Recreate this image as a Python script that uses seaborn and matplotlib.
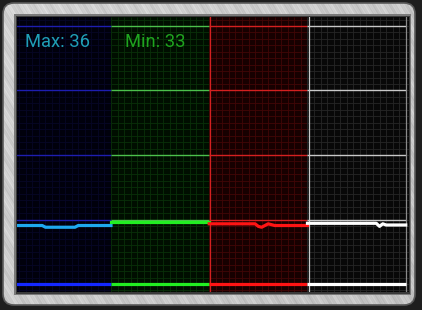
import numpy as np
import pandas as pd
import matplotlib
matplotlib.use("Agg")
import matplotlib.pyplot as plt
from matplotlib.patches import FancyBboxPatch, Rectangle
import seaborn as sns

# ---------------- data ----------------
sections = ["blue", "green", "red", "white"]
samples_per_section = 30
blue_temps = [34, 34, 34, 34, 34, 34, 34, 34, 34, 34, 33, 33, 33, 33, 33, 33,
              33, 33, 33, 33, 34, 34, 34, 34, 34, 34, 34, 34, 34, 34, 34]
green_temps = [36] * 31
red_temps = [35, 35, 35, 35, 35, 35, 35, 35, 35, 35, 35, 35, 35, 35, 35, 33.5,
             33, 34, 35, 34.5, 34, 34, 34, 34, 34, 34, 34, 34, 34, 34, 34]
white_temps = [35.3, 35.3, 35.3, 35.3, 35.3, 35.3, 35.3, 35.3, 35.3, 35.3, 35.3,
               35.3, 35.3, 35.3, 35.3, 35.3, 35.3, 35.3, 35.3, 35.3, 35.3, 35.3,
               33.5, 35, 34.3, 34.3, 34.3, 34.3, 34.3, 34.3, 34.3]
max_label = "Max: 36"
min_label = "Min: 33"
y_major = [37.5, 75, 112.5, 150]

bg_colors = {"blue": "#00000c", "green": "#000e00", "red": "#170000", "white": "#080808"}
minor_colors = {"blue": "#060626", "green": "#093009", "red": "#420606", "white": "#262626"}
major_colors = {"blue": "#1e1eb0", "green": "#4cc04c", "red": "#d42020", "white": "#c8c8c8"}
line_colors = {"blue": "#1ea8f0", "green": "#22ee22", "red": "#ff1414", "white": "#ffffff"}
base_colors = {"blue": "#1428ff", "green": "#22ee22", "red": "#ff1414", "white": "#ffffff"}

rows = []
for k, (name, temps) in enumerate(zip(sections, [blue_temps, green_temps, red_temps, white_temps])):
    for i, t in enumerate(temps):
        rows.append({"sample": k * samples_per_section + i, "temp": t, "section": name})
df = pd.DataFrame(rows)

# ---------------- figure ----------------
W, H = 422, 310
fig = plt.figure(figsize=(W / 100, H / 100), dpi=100)
fig.patch.set_facecolor("#1c1c1c")

# background / frame axes in pixel coords
bg = fig.add_axes([0, 0, 1, 1], zorder=0)
bg.set_xlim(0, W)
bg.set_ylim(H, 0)
bg.axis("off")
bg.add_patch(Rectangle((0, 0), W, H, color="#1e1e1e", zorder=0))

frame = FancyBboxPatch((3, 3), 412, 302, boxstyle="round,pad=0,rounding_size=11",
                       facecolor="none", edgecolor="#5a5a5a", linewidth=1.2, zorder=3)
gx, gy = np.meshgrid(np.arange(W), np.arange(H))
d = gx - 0.6 * gy
tex = (0.76 + 0.06 * (1 - (gx + gy) / (W + H))
       + 0.025 * np.sin(d * 0.37) + 0.02 * np.sin(d * 1.13 + 1.0)
       + 0.015 * np.sin(d * 2.71 + 2.0))
im = bg.imshow(tex, cmap="gray", vmin=0, vmax=1, extent=(0, W, H, 0),
               origin="upper", zorder=1, interpolation="bilinear")
clip = FancyBboxPatch((3, 3), 412, 302, boxstyle="round,pad=0,rounding_size=11",
                      facecolor="none", edgecolor="none", transform=bg.transData)
bg.add_patch(clip)
im.set_clip_path(clip)
bg.add_patch(frame)
# inner bevel
bg.add_patch(Rectangle((14, 14), 397, 281, facecolor="#7a7a7a", edgecolor="none", zorder=4))
bg.add_patch(Rectangle((15.5, 15.5), 394, 278, facecolor="#3a3a3a", edgecolor="none", zorder=4))

# ---------------- chart axes ----------------
ax = fig.add_axes([17 / W, (H - 292) / H, (409 - 17) / W, (292 - 17) / H], zorder=2)
ax.set_xlim(1.3, 121.0)
ax.set_ylim(-4.65, 155.23)
ax.set_facecolor("black")
for s in ax.spines.values():
    s.set_visible(False)

n = samples_per_section
ymin, ymax = ax.get_ylim()
for k, name in enumerate(sections):
    x0 = k * n
    x1 = x0 + n if k < len(sections) - 1 else 125
    ax.axvspan(x0, x1, color=bg_colors[name], zorder=0, lw=0)
    ax.vlines(np.arange(x0, x1, 2), ymin, ymax, colors=minor_colors[name], lw=0.6, zorder=1)
    ax.hlines(np.arange(-3.75, 156, 3.75), x0, x1, colors=minor_colors[name], lw=0.6, zorder=1)
    ax.hlines(y_major, x0, min(x1, 120.1), colors=major_colors[name], lw=1.0, zorder=2)
    ax.hlines([0], x0, min(x1, 120.1), colors=base_colors[name], lw=2.3, zorder=4)

ax.axvline(2 * n + 0.3, color=major_colors["red"], lw=0.9, zorder=2)
ax.axvline(3 * n + 0.4, color=major_colors["white"], lw=0.9, zorder=2)
ax.axvline(120.0, color="#8a8a8a", lw=0.9, zorder=2)

sns.lineplot(data=df, x="sample", y="temp", hue="section", palette=line_colors,
             legend=False, ax=ax, linewidth=2.3, zorder=5, estimator=None)
ax.set_xlabel("")
ax.set_ylabel("")
ax.set_xticks([])
ax.set_yticks([])
ax.set_xlim(1.3, 121.0)
ax.set_ylim(-4.65, 155.23)

fig.text(25 / W, 1 - 47 / H, max_label, color="#1f9fb6", fontsize=13.2,
         family="Roboto", va="baseline", ha="left", zorder=10)
fig.text(125 / W, 1 - 47 / H, min_label, color="#1fa41f", fontsize=13.2,
         family="Roboto", va="baseline", ha="left", zorder=10)

fig.savefig("out.png", dpi=100, facecolor=fig.get_facecolor())
